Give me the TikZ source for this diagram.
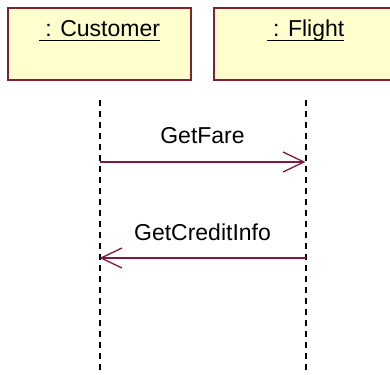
\documentclass[tikz,border=0pt]{standalone}
\usepackage{fontspec}
\setmainfont{Liberation Sans}
\usepackage{tikz}
\usetikzlibrary{positioning, arrows.meta}
\definecolor{boxred}{RGB}{128,32,48}
\definecolor{boxfill}{RGB}{255,255,206}
\definecolor{msgcol}{RGB}{128,24,64}

\begin{document}
\begin{tikzpicture}[x=1pt,y=1pt,node distance=206pt,on grid,auto,
    font=\fontsize{23}{27}\selectfont]
  \tikzstyle{obj}=[draw=boxred, fill=boxfill, line width=1.3pt,
    minimum width=183pt, minimum height=72pt, inner sep=0pt]
  \tikzstyle{objname}=[anchor=base, inner sep=0pt]
  \tikzstyle{uline}=[line width=1pt]
  \tikzstyle{life}=[line width=2pt, dash pattern=on 6pt off 5pt]
  \tikzstyle{msg}=[draw=msgcol, line width=1.3pt,
    -{Straight Barb[length=21pt,width=20pt,line width=1.3pt]}]
  \clip (0,0) rectangle (390,-374);
  \node[obj] (cust) at (99.5,-44) {};
  \node[obj, right of=cust] (flight) {};
  \node[objname] (custl) at ([yshift=-29pt]cust.north) {\ : Customer};
  \node[objname] (flightl) at ([yshift=-29pt]flight.north) {\ : Flight};
  \draw[uline] ([yshift=-4pt]custl.base west) -- ([yshift=-4pt]custl.base east);
  \draw[uline] ([yshift=-4pt]flightl.base west) -- ([yshift=-4pt]flightl.base east);
  % lifelines
  \coordinate (ct) at (cust.south |- 0,-100);
  \coordinate[right of=ct] (ft);
  \coordinate[below=62pt of ct] (c1);
  \coordinate[below=62pt of ft] (f1);
  \coordinate[below=96pt of c1] (c2);
  \coordinate[below=96pt of f1] (f2);
  \coordinate[below=280pt of ct] (cb);
  \coordinate[below=280pt of ft] (fb);
  \draw[life] (ct) -- (cb);
  \draw[life] (ft) -- (fb);
  % messages
  \draw[msg] (c1) -- node[midway, anchor=base, yshift=19pt, draw=none] (m1) {GetFare} (f1);
  \draw[msg] (f2) -- node[midway, anchor=base, yshift=18pt, draw=none] (m2) {GetCreditInfo} (c2);
\end{tikzpicture}
\end{document}
